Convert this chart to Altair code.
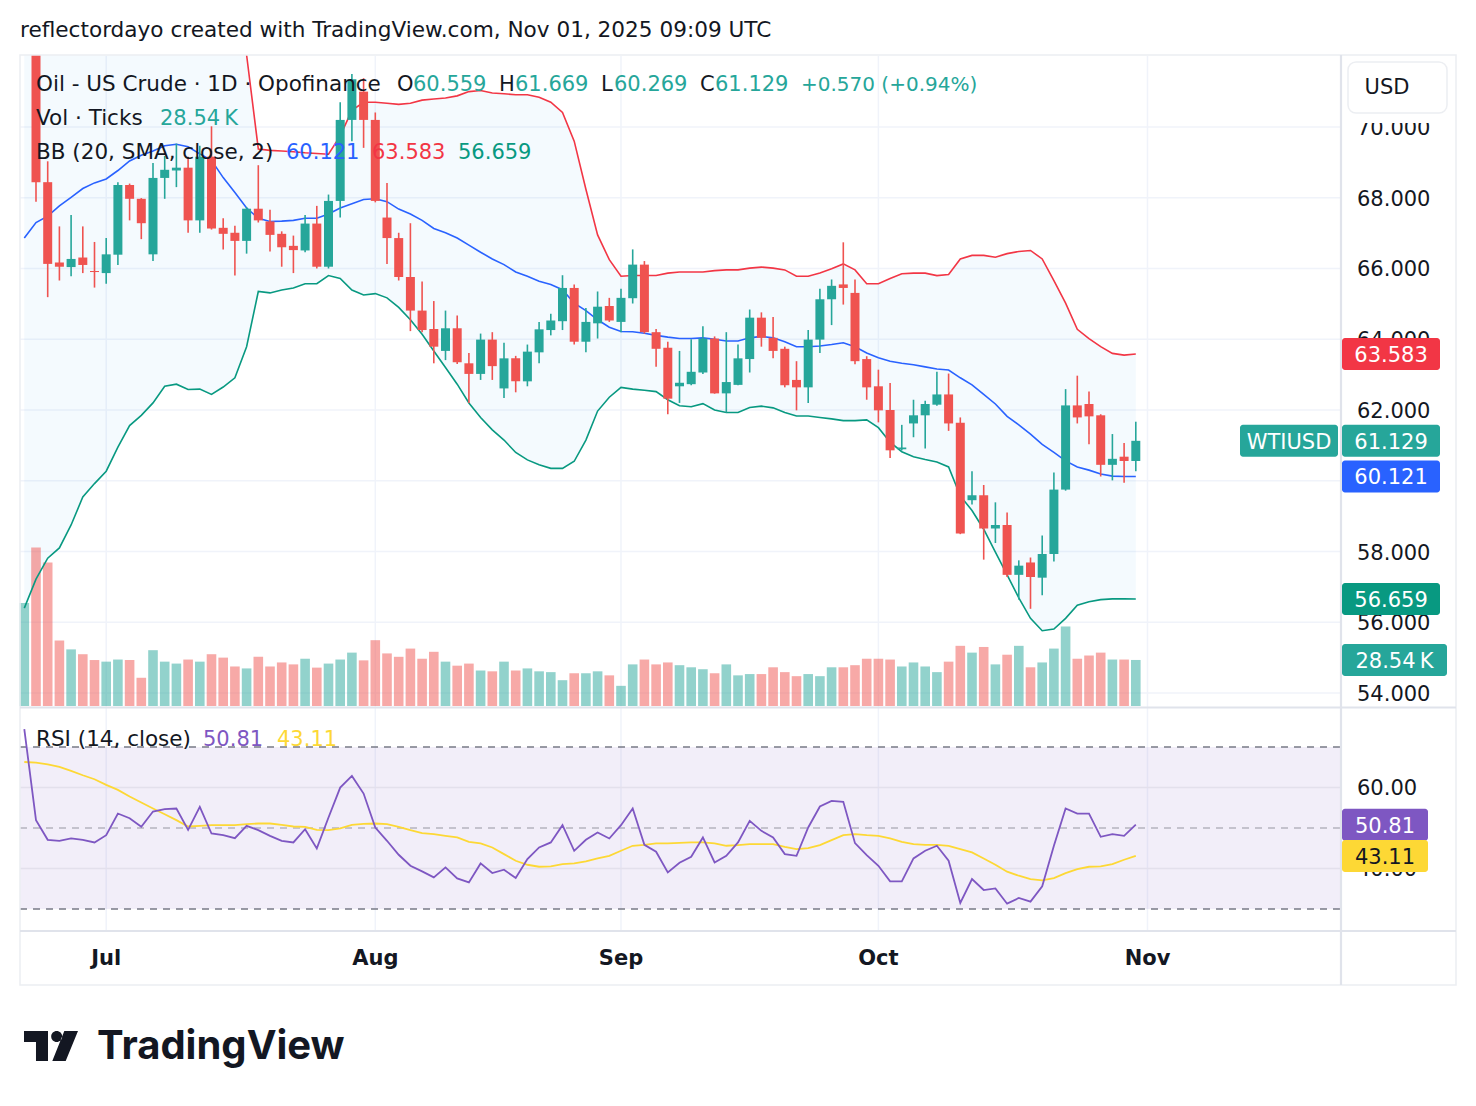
import altair as alt
import numpy as np
import pandas as pd

# ---- daily bars: index -1 = Jun 20, 0 = Jun 23 ... 94 = Oct 31 (trading days) ----
BAR_INDEX = list(range(-1, 95))

OPEN = [73.90, 74.60, 68.44, 66.17, 66.04, 66.31, 65.93, 65.87, 66.39, 68.36,
        67.97, 66.40, 68.56, 68.77, 68.85, 67.36, 69.16, 67.15, 67.01, 66.78,
        67.69, 67.33, 66.98, 66.64, 66.51, 67.27, 66.05, 67.91, 70.20, 71.00,
        70.20, 67.44, 66.86, 65.76, 64.81, 64.29, 63.67, 64.31, 63.32, 63.02,
        63.99, 62.61, 63.46, 62.81, 63.63, 64.26, 64.51, 65.45, 63.93, 64.45,
        64.94, 64.49, 65.16, 66.11, 64.20, 63.76, 62.67, 62.73, 63.06, 64.02,
        62.47, 62.71, 63.44, 64.61, 64.04, 63.73, 62.85, 62.64, 63.99, 65.13,
        65.55, 65.31, 63.44, 62.67, 62.00, 60.89, 61.62, 61.85, 62.15, 62.44,
        61.64, 59.45, 59.59, 58.65, 58.75, 57.34, 57.69, 57.26, 57.93, 59.75,
        62.13, 62.17, 61.85, 60.45, 60.68, 60.559]
HIGH = [75.20, 75.10, 69.03, 67.19, 67.51, 67.19, 66.75, 66.86, 68.44, 68.40,
        67.99, 68.98, 69.18, 69.53, 69.16, 69.47, 70.02, 67.42, 67.21, 67.74,
        68.92, 67.66, 67.05, 66.93, 67.51, 67.77, 68.09, 70.70, 71.50, 71.38,
        70.41, 68.42, 67.01, 67.28, 65.63, 65.08, 64.81, 64.67, 63.61, 64.16,
        64.20, 63.90, 63.53, 63.85, 64.49, 64.72, 65.81, 65.55, 64.88, 65.35,
        65.17, 65.43, 66.54, 66.21, 64.29, 63.93, 63.67, 64.00, 64.37, 64.08,
        64.20, 63.85, 64.84, 64.76, 64.63, 63.79, 63.38, 64.26, 65.43, 65.69,
        66.74, 65.69, 63.52, 63.14, 62.76, 61.58, 62.29, 62.26, 63.08, 63.03,
        61.79, 60.27, 59.88, 59.39, 59.10, 57.75, 57.83, 58.45, 60.23, 62.59,
        62.97, 62.52, 61.88, 61.32, 61.07, 61.669]
LOW = [73.40, 67.89, 65.19, 65.66, 65.78, 65.87, 65.46, 65.57, 66.10, 67.36,
       66.83, 66.21, 67.97, 68.30, 67.01, 67.01, 67.10, 66.54, 65.80, 66.42,
       67.30, 66.48, 66.05, 65.87, 66.46, 66.00, 66.00, 67.44, 69.60, 69.41,
       67.87, 66.13, 65.66, 64.23, 64.20, 63.32, 63.41, 63.30, 62.20, 62.85,
       62.85, 62.34, 62.50, 62.67, 63.32, 64.11, 64.26, 63.85, 63.63, 64.02,
       64.49, 64.20, 65.01, 64.16, 63.22, 61.88, 62.20, 62.70, 63.02, 62.46,
       61.93, 62.70, 63.06, 63.79, 63.46, 62.64, 61.99, 62.20, 63.61, 64.40,
       64.98, 63.29, 62.29, 61.65, 60.64, 60.86, 61.23, 60.91, 62.12, 61.41,
       58.49, 59.33, 57.77, 58.24, 57.28, 56.64, 56.38, 56.76, 57.72, 59.72,
       61.62, 61.03, 60.12, 60.01, 59.94, 60.269]
CLOSE = [74.90, 68.44, 66.13, 66.05, 66.27, 66.10, 65.90, 66.40, 68.36, 67.97,
         67.28, 68.56, 68.79, 68.85, 67.36, 69.16, 67.13, 66.98, 66.78, 67.69,
         67.36, 66.95, 66.60, 66.52, 67.27, 66.05, 67.91, 70.20, 71.35, 70.20,
         67.91, 66.86, 65.76, 64.81, 64.26, 63.79, 64.31, 63.35, 63.02, 63.99,
         63.24, 63.46, 62.81, 63.65, 64.28, 64.53, 65.45, 63.93, 64.49, 64.92,
         64.53, 65.17, 66.11, 64.20, 63.73, 62.32, 62.77, 63.08, 64.02, 62.47,
         62.79, 63.46, 64.61, 64.04, 63.67, 62.70, 62.64, 63.99, 65.13, 65.51,
         65.45, 63.38, 62.64, 61.99, 60.86, 60.94, 61.85, 62.17, 62.44, 61.62,
         58.51, 59.59, 58.65, 58.75, 57.34, 57.60, 57.28, 57.93, 59.75, 62.13,
         61.79, 61.82, 60.45, 60.62, 60.559, 61.129]
# volume in thousands of ticks
VOLUME = [63.9, 98.2, 88.9, 40.6, 35.1, 32.1, 28.5, 27.5, 28.8, 28.5,
          17.5, 34.6, 27.5, 26.3, 28.8, 27.5, 32.1, 30.0, 24.5, 23.3,
          30.5, 24.5, 27.0, 25.8, 29.3, 23.8, 26.3, 28.8, 33.1, 28.3,
          40.8, 32.6, 30.5, 35.6, 29.3, 33.6, 27.5, 25.0, 26.3, 22.0,
          21.5, 27.5, 22.0, 23.3, 21.5, 21.0, 16.0, 20.3, 20.3, 21.5,
          19.0, 12.5, 25.8, 28.8, 25.8, 27.0, 25.3, 24.0, 22.8, 20.3,
          25.8, 19.0, 19.8, 19.8, 24.0, 21.0, 18.5, 19.8, 18.5, 24.0,
          24.0, 25.3, 29.3, 29.3, 28.8, 24.5, 27.0, 24.5, 21.0, 27.5,
          37.3, 33.1, 36.6, 25.8, 31.8, 37.3, 24.0, 27.0, 35.6, 49.3,
          29.3, 31.3, 33.1, 28.8, 28.8, 28.54]

# Bollinger Bands (20, SMA, close, 2)
BB_UPPER = [77.30, 77.38, 77.15, 77.44, 77.27, 76.98, 76.92, 76.79, 76.59, 76.52,
            76.55, 76.44, 76.27, 76.29, 76.30, 75.89, 75.68, 74.49, 73.39, 72.60,
            69.38, 69.34, 69.32, 69.30, 69.27, 69.25, 69.23, 69.75, 70.47, 70.70,
            70.70, 70.67, 70.64, 70.67, 70.76, 70.79, 70.82, 70.88, 71.00, 71.03,
            70.96, 70.94, 70.91, 70.91, 70.84, 70.70, 70.41, 69.60, 68.24, 66.95,
            66.25, 65.78, 65.80, 65.80, 65.80, 65.87, 65.90, 65.90, 65.90, 65.94,
            65.96, 65.96, 66.01, 66.04, 66.01, 65.96, 65.78, 65.78, 65.87, 65.99,
            66.13, 65.96, 65.57, 65.57, 65.72, 65.85, 65.87, 65.87, 65.80, 65.83,
            66.27, 66.37, 66.37, 66.32, 66.42, 66.48, 66.51, 66.27, 65.66, 65.02,
            64.28, 64.02, 63.79, 63.60, 63.55, 63.583]
BB_BASIS = [66.86, 67.30, 67.48, 67.77, 68.01, 68.26, 68.42, 68.53, 68.77, 69.04,
            69.20, 69.32, 69.47, 69.51, 69.44, 69.24, 69.06, 68.57, 68.15, 67.71,
            67.42, 67.33, 67.34, 67.36, 67.42, 67.42, 67.54, 67.71, 67.83, 67.95,
            67.97, 67.89, 67.68, 67.54, 67.36, 67.13, 67.01, 66.86, 66.66, 66.46,
            66.27, 66.11, 65.90, 65.78, 65.64, 65.55, 65.40, 65.02, 64.81, 64.55,
            64.34, 64.22, 64.21, 64.17, 64.11, 64.06, 64.02, 64.02, 64.04, 64.00,
            63.95, 63.95, 64.04, 64.08, 64.04, 63.93, 63.79, 63.79, 63.81, 63.85,
            63.90, 63.79, 63.61, 63.48, 63.38, 63.32, 63.28, 63.22, 63.16, 63.13,
            62.91, 62.71, 62.44, 62.17, 61.82, 61.58, 61.32, 61.03, 60.80, 60.56,
            60.39, 60.30, 60.19, 60.13, 60.12, 60.121]
BB_LOWER = [56.40, 57.22, 57.81, 58.10, 58.75, 59.54, 59.92, 60.27, 60.95, 61.56,
            61.85, 62.20, 62.67, 62.73, 62.58, 62.59, 62.44, 62.65, 62.91, 63.79,
            65.35, 65.31, 65.39, 65.45, 65.57, 65.57, 65.80, 65.72, 65.39, 65.25,
            65.29, 65.17, 64.90, 64.55, 64.14, 63.67, 63.20, 62.73, 62.20, 61.79,
            61.44, 61.15, 60.80, 60.59, 60.45, 60.35, 60.35, 60.55, 61.15, 61.97,
            62.36, 62.64, 62.59, 62.56, 62.52, 62.29, 62.12, 62.09, 62.18, 62.00,
            61.93, 61.93, 62.07, 62.11, 62.06, 61.93, 61.83, 61.83, 61.79, 61.75,
            61.70, 61.70, 61.72, 61.50, 61.09, 60.82, 60.68, 60.60, 60.53, 60.39,
            59.57, 59.16, 58.63, 57.98, 57.34, 56.69, 56.11, 55.76, 55.81, 56.11,
            56.48, 56.58, 56.64, 56.66, 56.66, 56.659]

# RSI (14, close) and its moving average
RSI = [74.40, 51.93, 47.08, 46.84, 47.41, 47.08, 46.43, 48.23, 53.57, 52.42,
       50.29, 54.07, 54.64, 54.81, 49.55, 55.22, 48.64, 48.23, 47.49, 50.53,
       49.47, 48.07, 46.84, 46.43, 49.71, 44.95, 52.59, 59.98, 62.85, 58.50,
       50.12, 46.84, 43.39, 40.68, 39.28, 37.80, 40.27, 37.56, 36.57, 41.25,
       38.87, 39.69, 37.64, 42.32, 45.19, 46.43, 50.70, 44.37, 47.08, 48.89,
       47.41, 50.70, 54.81, 45.85, 44.13, 39.03, 41.40, 42.90, 47.66, 41.50,
       43.14, 46.43, 51.77, 49.30, 47.66, 43.55, 43.14, 50.12, 55.30, 56.69,
       56.45, 46.26, 43.31, 40.68, 36.82, 36.82, 42.48, 44.37, 45.61, 41.91,
       31.48, 37.39, 34.68, 35.09, 31.31, 32.71, 31.81, 35.59, 45.61, 54.81,
       53.57, 53.57, 47.82, 48.48, 48.07, 50.81]
RSI_MA = [66.30, 66.14, 65.73, 65.07, 64.09, 63.02, 62.03, 60.64, 59.40, 57.76,
          56.28, 54.81, 53.41, 51.93, 50.37, 50.53, 50.70, 50.70, 50.70, 50.94,
          51.11, 51.11, 50.78, 50.37, 50.29, 49.55, 49.47, 49.88, 50.78, 51.03,
          51.11, 50.94, 50.29, 49.47, 48.73, 48.48, 48.07, 47.66, 46.59, 46.18,
          45.19, 43.55, 41.91, 40.92, 40.43, 40.51, 41.09, 41.25, 41.75, 42.48,
          43.14, 44.37, 45.61, 45.85, 46.18, 46.18, 46.30, 46.43, 46.43, 46.18,
          45.61, 45.77, 46.02, 46.02, 46.02, 45.36, 44.78, 45.03, 45.77, 47.00,
          48.23, 48.48, 48.23, 48.07, 47.41, 46.59, 46.02, 45.85, 45.85, 45.61,
          44.78, 43.96, 42.48, 40.92, 39.20, 38.21, 37.39, 37.06, 37.64, 38.87,
          39.86, 40.43, 40.51, 41.09, 42.16, 43.11]

# axis ticks
MONTH_INDEX = [6, 29, 50, 72, 95]
MONTH_LABELS = ["Jul", "Aug", "Sep", "Oct", "Nov"]
PRICE_TICKS = [54, 56, 58, 60, 62, 64, 66, 68, 70]
RSI_GRID = [60, 40]
RSI_LEVELS = [70, 30]

FONT = "DejaVu Sans"
INK = "#131722"
UP, DOWN = "#26a69a", "#ef5350"
GRID = "#f0f3fa"
BORDER = "#e0e3eb"
TEXT_DY = 2

W, H = 1476, 1106
PANE_L, PANE_R = 20, 1340

# ---- scales (pixel ranges for each pane of the canvas) ----
XS = alt.Scale(domain=[-1.3675, 111.453], range=[PANE_L, PANE_R], nice=False, zero=False, padding=0)
PRICE = alt.Scale(domain=[53.661, 72.035], range=[705, 55], nice=False, zero=False, clamp=True, padding=0)
VOL = alt.Scale(domain=[0, 403], range=[706, 56], nice=False, zero=False, clamp=True, padding=0)
RSIS = alt.Scale(domain=[24.81, 79.63], range=[930, 708], nice=False, zero=False, clamp=True, padding=0)

df = pd.DataFrame({
    "i": BAR_INDEX, "open": OPEN, "high": HIGH, "low": LOW, "close": CLOSE,
    "vol": VOLUME, "bb_up": BB_UPPER, "bb_mid": BB_BASIS, "bb_lo": BB_LOWER,
    "rsi": RSI, "rsi_ma": RSI_MA,
})
df["dir"] = np.where(df["close"] >= df["open"], "up", "down")
df["body_hi"] = df[["open", "close"]].max(axis=1)
df["body_lo"] = df[["open", "close"]].min(axis=1)
df["zero"] = 0.0

X = alt.X("i:Q", scale=XS, axis=None)
DIR_COLOR = alt.Color("dir:N", scale=alt.Scale(domain=["up", "down"], range=[UP, DOWN]), legend=None)

base = alt.Chart(df)


def hrules(values, scale, x1, x2, color, width=1.0, dash=None, opacity=1.0):
    d = pd.DataFrame({"v": values})
    kw = dict(color=color, strokeWidth=width, opacity=opacity)
    if dash:
        kw["strokeDash"] = dash
    return alt.Chart(d).mark_rule(**kw).encode(
        y=alt.Y("v:Q", scale=scale, axis=None), x=alt.value(x1), x2=alt.value(x2))


def text_at(x, y, s, color=INK, size=21, align="left", weight="normal", font=FONT):
    return alt.Chart(pd.DataFrame({"t": [s]})).mark_text(
        align=align, baseline="middle", font=font, fontSize=size, fontWeight=weight,
        color=color, dy=TEXT_DY
    ).encode(x=alt.value(x), y=alt.value(y), text="t:N")


def value_tag(value, label, scale, x1, x2, fill, ink="white"):
    d = pd.DataFrame({"v": [value], "t": [label]})
    rect = alt.Chart(d).mark_rect(fill=fill, cornerRadius=3, yOffset=-16, y2Offset=16).encode(
        y=alt.Y("v:Q", scale=scale, axis=None), y2="v", x=alt.value(x1), x2=alt.value(x2))
    txt = alt.Chart(d).mark_text(font=FONT, fontSize=21, color=ink, align="center",
                                 baseline="middle", dy=TEXT_DY).encode(
        y=alt.Y("v:Q", scale=scale, axis=None), x=alt.value((x1 + x2) / 2), text="t:N")
    return [rect, txt]


layers = []

# ---- price pane grid ----
layers.append(hrules(PRICE_TICKS, PRICE, PANE_L, PANE_R, GRID, 1.5))
months = pd.DataFrame({"i": MONTH_INDEX, "m": MONTH_LABELS})
layers.append(alt.Chart(months).mark_rule(color=GRID, strokeWidth=1.5).encode(
    x=X, y=alt.value(56), y2=alt.value(930)))

# ---- Bollinger band fill ----
layers.append(base.mark_area(color="#2196f3", opacity=0.05).encode(
    x=X, y=alt.Y("bb_up:Q", scale=PRICE, axis=None), y2="bb_lo"))

# ---- volume ----
layers.append(base.mark_bar(size=9.6, opacity=0.5).encode(
    x=X, y=alt.Y("vol:Q", scale=VOL, axis=None, stack=None), y2="zero", color=DIR_COLOR))

# ---- Bollinger lines ----
layers.append(base.transform_filter("datum.i >= 18").mark_line(color="#f23645", strokeWidth=1.6).encode(
    x=X, y=alt.Y("bb_up:Q", scale=PRICE, axis=None)))
layers.append(base.mark_line(color="#2962ff", strokeWidth=1.6).encode(
    x=X, y=alt.Y("bb_mid:Q", scale=PRICE, axis=None)))
layers.append(base.mark_line(color="#089981", strokeWidth=1.6).encode(
    x=X, y=alt.Y("bb_lo:Q", scale=PRICE, axis=None)))

# ---- candles ----
layers.append(base.mark_rule(strokeWidth=1.6).encode(
    x=X, y=alt.Y("low:Q", scale=PRICE, axis=None), y2="high", color=DIR_COLOR))
layers.append(base.mark_bar(size=9).encode(
    x=X, y=alt.Y("body_lo:Q", scale=PRICE, axis=None), y2="body_hi", color=DIR_COLOR))

# ---- RSI pane ----
band = pd.DataFrame({"top": [70], "bot": [30]})
layers.append(alt.Chart(band).mark_rect(color="#7e57c2", opacity=0.1).encode(
    y=alt.Y("top:Q", scale=RSIS, axis=None), y2="bot", x=alt.value(PANE_L), x2=alt.value(PANE_R)))
layers.append(hrules(RSI_GRID, RSIS, PANE_L, PANE_R, "#e3e0ec", 1.5))
layers.append(hrules(RSI_LEVELS, RSIS, PANE_L, PANE_R, "#787b86", 1.6, [7, 6]))
layers.append(hrules([50], RSIS, PANE_L, PANE_R, "#787b86", 1.6, [7, 6], 0.5))
layers.append(base.mark_line(color="#fdd835", strokeWidth=1.8).encode(
    x=X, y=alt.Y("rsi_ma:Q", scale=RSIS, axis=None)))
layers.append(base.mark_line(color="#7e57c2", strokeWidth=1.8).encode(
    x=X, y=alt.Y("rsi:Q", scale=RSIS, axis=None)))

# ---- frame and pane separators ----
layers.append(alt.Chart(pd.DataFrame({"a": [0]})).mark_rect(
    fill=None, stroke="#eceef2", strokeWidth=1.5).encode(
    x=alt.value(20), x2=alt.value(1456), y=alt.value(55), y2=alt.value(985)))
for yy in (707.5, 931):
    layers.append(alt.Chart(pd.DataFrame({"a": [0]})).mark_rule(color=BORDER, strokeWidth=2.2).encode(
        x=alt.value(20), x2=alt.value(1456), y=alt.value(yy)))
layers.append(alt.Chart(pd.DataFrame({"a": [0]})).mark_rule(color=BORDER, strokeWidth=2.2).encode(
    x=alt.value(1341), y=alt.value(55), y2=alt.value(985)))

# ---- right price axis labels ----
pt = pd.DataFrame({"v": PRICE_TICKS, "t": [f"{v:.3f}" for v in PRICE_TICKS]})
layers.append(alt.Chart(pt).mark_text(font=FONT, fontSize=21, color=INK, align="left",
                                      baseline="middle", dy=TEXT_DY).encode(
    y=alt.Y("v:Q", scale=PRICE, axis=None), x=alt.value(1357), text="t:N"))
rt = pd.DataFrame({"v": RSI_GRID, "t": [f"{v:.2f}" for v in RSI_GRID]})
layers.append(alt.Chart(rt).mark_text(font=FONT, fontSize=21, color=INK, align="left",
                                      baseline="middle", dy=TEXT_DY).encode(
    y=alt.Y("v:Q", scale=RSIS, axis=None), x=alt.value(1357), text="t:N"))

# currency button (sits over the top of the price scale)
layers.append(alt.Chart(pd.DataFrame({"a": [0]})).mark_rect(fill="white").encode(
    x=alt.value(1343), x2=alt.value(1455), y=alt.value(57), y2=alt.value(123)))
layers.append(alt.Chart(pd.DataFrame({"a": [0]})).mark_rect(
    fill="white", stroke="#eceef2", strokeWidth=1.5, cornerRadius=8).encode(
    x=alt.value(1348), x2=alt.value(1447), y=alt.value(62), y2=alt.value(113)))
layers.append(text_at(1387, 86, "USD", align="center"))

# ---- last-value tags ----
last = df.iloc[-1]
layers += value_tag(last["bb_up"], f"{last['bb_up']:.3f}", PRICE, 1342, 1440, "#f23645")
layers += value_tag(last["close"], f"{last['close']:.3f}", PRICE, 1342, 1440, UP)
layers += value_tag(last["close"], "WTIUSD", PRICE, 1240, 1338, UP)
layers += value_tag(last["bb_mid"], f"{last['bb_mid']:.3f}", PRICE, 1342, 1440, "#2962ff")
layers += value_tag(last["bb_lo"], f"{last['bb_lo']:.3f}", PRICE, 1342, 1440, "#089981")
layers += value_tag(last["vol"], f"{last['vol']:.2f}\u2009K", VOL, 1342, 1447, UP)
layers += value_tag(last["rsi"], f"{last['rsi']:.2f}", RSIS, 1342, 1428, "#7e57c2")
layers += value_tag(last["rsi_ma"], f"{last['rsi_ma']:.2f}", RSIS, 1342, 1428, "#fdd835", ink=INK)

# ---- time axis ----
layers.append(alt.Chart(months).mark_text(font=FONT, fontSize=21, fontWeight="bold", color=INK,
                                          align="center", baseline="middle", dy=TEXT_DY).encode(
    x=X, y=alt.value(957), text="m:N"))

# ---- legends ----
chg = last["close"] - last["open"]
pct = chg / last["open"] * 100
layers += [
    text_at(36, 83, "Oil - US Crude \u00b7 1D \u00b7 Opofinance", size=21.5),
    text_at(397, 83, "O"), text_at(413, 83, f"{last['open']:.3f}", UP),
    text_at(499, 83, "H"), text_at(515, 83, f"{last['high']:.3f}", UP),
    text_at(601, 83, "L"), text_at(614, 83, f"{last['low']:.3f}", UP),
    text_at(700, 83, "C"), text_at(715, 83, f"{last['close']:.3f}", UP),
    text_at(801, 83, f"+{chg:.3f} (+{pct:.2f}%)", UP, size=20),
    text_at(36, 117, "Vol \u00b7 Ticks", size=21.5), text_at(160, 117, f"{last['vol']:.2f}\u2009K", UP),
    text_at(36, 151, "BB (20, SMA, close, 2)", size=21.5),
    text_at(286, 151, f"{last['bb_mid']:.3f}", "#2962ff"),
    text_at(372, 151, f"{last['bb_up']:.3f}", "#f23645"),
    text_at(458, 151, f"{last['bb_lo']:.3f}", "#089981"),
    text_at(36, 738, "RSI (14, close)", size=21.5),
    text_at(203, 738, f"{last['rsi']:.2f}", "#7e57c2"),
    text_at(277, 738, f"{last['rsi_ma']:.2f}", "#fdd835"),
]

# ---- header and footer ----
layers.append(text_at(20, 29, "reflectordayo created with TradingView.com, Nov 01, 2025 09:09 UTC", size=21.6))
LOGO_PATH = ("M-1,-0.556 L-0.111,-0.556 L-0.111,0.556 L-0.556,0.556 L-0.556,-0.148 L-1,-0.148 Z "
             "M0.007,-0.352 A0.204,0.204 0 1 0 0.415,-0.352 A0.204,0.204 0 1 0 0.007,-0.352 Z "
             "M0.493,-0.556 L1,-0.556 L0.544,0.556 L0.048,0.556 Z")
layers.append(alt.Chart(pd.DataFrame({"a": [0]})).mark_point(
    shape=LOGO_PATH, size=2916, filled=True, color=INK, opacity=1, strokeWidth=0).encode(
    x=alt.value(51), y=alt.value(1046)))
layers.append(text_at(97, 1045, "TradingView", size=40, weight="bold", font="Inter"))

chart = alt.layer(*layers).resolve_scale(y="independent").properties(
    width=W, height=H, autosize=alt.AutoSizeParams(type="none"), padding=0,
    background="white",
).configure_view(stroke=None)

chart.save("out.html", embed_options={"renderer": "svg", "actions": False})
